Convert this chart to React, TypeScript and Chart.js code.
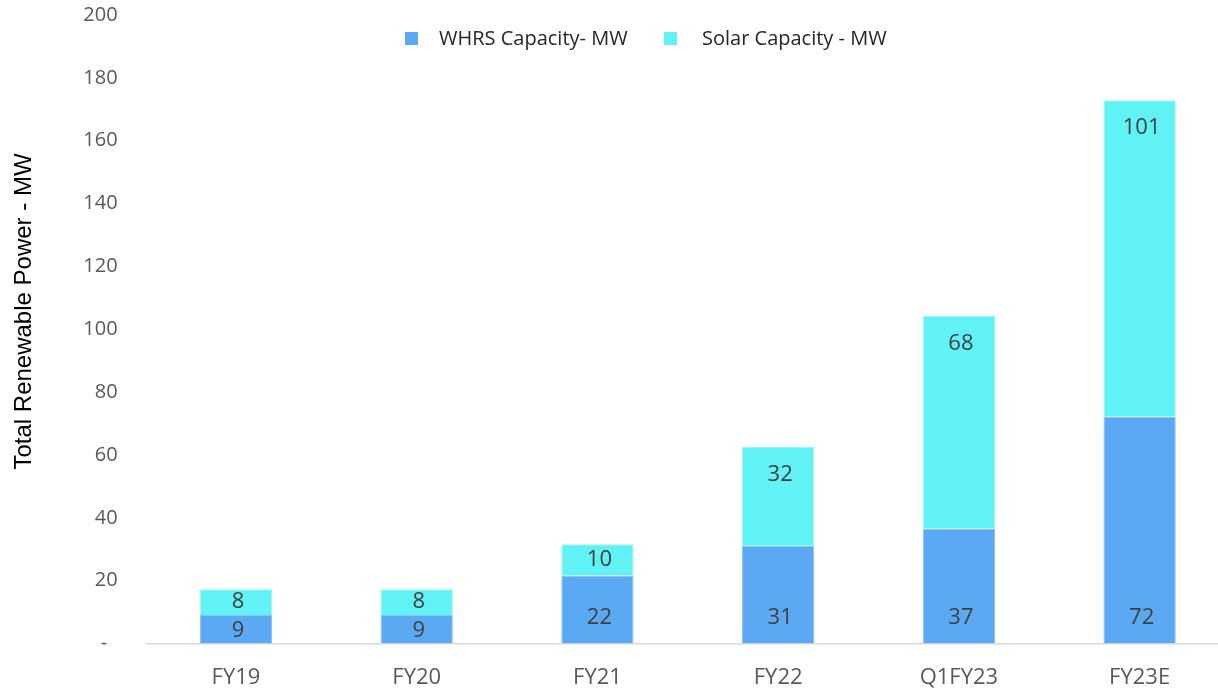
import React, { useEffect, useRef } from "react";
import { Chart, registerables } from "chart.js";

Chart.register(...registerables);

const categories = ["FY19", "FY20", "FY21", "FY22", "Q1FY23", "FY23E"];
const whrsCapacity = [9.1, 9.1, 21.6, 31.1, 36.6, 72.2];
const solarCapacity = [8.2, 8.2, 10.0, 31.5, 67.6, 100.7];
const seriesNames = ["WHRS Capacity- MW", "Solar Capacity - MW"];
const seriesColors = ["#5BA9F2", "#60F2F5"];
const seriesBorders = ["#86C1F6", "#9AF6F8"];
const yMin = 0;
const yMax = 200;
const yStep = 20;
const yAxisTitle = "Total Renewable Power - MW";

const FONT = "'Open Sans', 'Noto Sans', sans-serif";

const segmentLabels = {
  id: "segmentLabels",
  afterDatasetsDraw(chart: any) {
    const ctx = chart.ctx;
    const size = 22;
    ctx.save();
    ctx.font = `${size}px ${FONT}`;
    ctx.fillStyle = "#404040";
    ctx.textAlign = "center";
    ctx.textBaseline = "alphabetic";
    chart.data.datasets.forEach((ds: any, di: number) => {
      const meta = chart.getDatasetMeta(di);
      meta.data.forEach((bar: any, i: number) => {
        const v = ds.data[i] as number;
        const top = Math.min(bar.y, bar.base);
        const bottom = Math.max(bar.y, bar.base);
        const h = bottom - top;
        const cy = di === 0 ? bottom - Math.min(27, h / 2) : top + Math.min(26, h / 2 - 1.5);
        ctx.fillText(String(Math.round(v)), bar.x + 2, cy + size * 0.36);
      });
    });
    ctx.restore();
  },
};

const legendAndTitle = {
  id: "legendAndTitle",
  afterDraw(chart: any) {
    const ctx = chart.ctx;
    ctx.save();
    const items = [
      { box: 405, text: 439 },
      { box: 664, text: 702 },
    ];
    ctx.font = `20px ${FONT}`;
    ctx.textAlign = "left";
    ctx.textBaseline = "alphabetic";
    chart.data.datasets.forEach((ds: any, i: number) => {
      const it = items[i];
      ctx.fillStyle = ds.backgroundColor;
      ctx.fillRect(it.box, 32, 13, 13);
      ctx.fillStyle = "#262626";
      ctx.fillText(ds.label, it.text, 44.5);
    });
    ctx.translate(24.5, 311.5);
    ctx.rotate(-Math.PI / 2);
    ctx.font = "24px 'Liberation Sans', Arial, sans-serif";
    ctx.fillStyle = "#000000";
    ctx.textAlign = "center";
    ctx.textBaseline = "middle";
    ctx.fillText(yAxisTitle, 0, 0);
    ctx.restore();
  },
};

export default function App() {
  const canvasRef = useRef<HTMLCanvasElement | null>(null);

  useEffect(() => {
    if (!canvasRef.current) return;
    const chart = new Chart(canvasRef.current, {
      type: "bar",
      data: {
        labels: categories,
        datasets: [
          {
            label: seriesNames[0],
            data: whrsCapacity,
            backgroundColor: seriesColors[0],
            borderColor: seriesBorders[0],
            borderWidth: 1,
            barPercentage: 0.4,
            categoryPercentage: 1,
          },
          {
            label: seriesNames[1],
            data: solarCapacity,
            backgroundColor: seriesColors[1],
            borderColor: seriesBorders[1],
            borderWidth: 1,
            barPercentage: 0.4,
            categoryPercentage: 1,
          },
        ],
      },
      options: {
        animation: false,
        responsive: false,
        devicePixelRatio: 1,
        layout: { padding: { top: 15, left: 0, right: 0, bottom: 0 } },
        plugins: {
          legend: { display: false },
          tooltip: { enabled: false },
          title: { display: false },
        },
        scales: {
          x: {
            stacked: true,
            grid: { display: false, drawTicks: false },
            border: { display: true, color: "#D9D9D9", width: 1.5 },
            ticks: {
              color: "#595959",
              font: { family: FONT, size: 22 },
              padding: 21,
            },
            afterFit(scale: any) {
              scale.height = 46.5;
              scale.paddingLeft = 0;
              scale.paddingRight = 0;
            },
          },
          y: {
            stacked: true,
            min: yMin,
            max: yMax,
            grid: { display: false, drawTicks: false },
            border: { display: false },
            ticks: {
              stepSize: yStep,
              color: "#595959",
              font: { family: FONT, size: 20 },
              padding: 28,
              callback: (v: any) => (Number(v) === 0 ? "-  " : String(v)),
            },
            afterFit(scale: any) {
              scale.width = 145.6;
              scale.paddingTop = 0;
              scale.paddingBottom = 0;
            },
          },
        },
      },
      plugins: [segmentLabels, legendAndTitle],
    });
    return () => chart.destroy();
  }, []);

  return (
    <div
      style={{
        position: "fixed",
        left: 0,
        top: 0,
        width: 1218,
        height: 690,
        overflow: "hidden",
        background: "#ffffff",
      }}
    >
      <canvas ref={canvasRef} width={1230} height={690} style={{ display: "block" }} />
    </div>
  );
}
